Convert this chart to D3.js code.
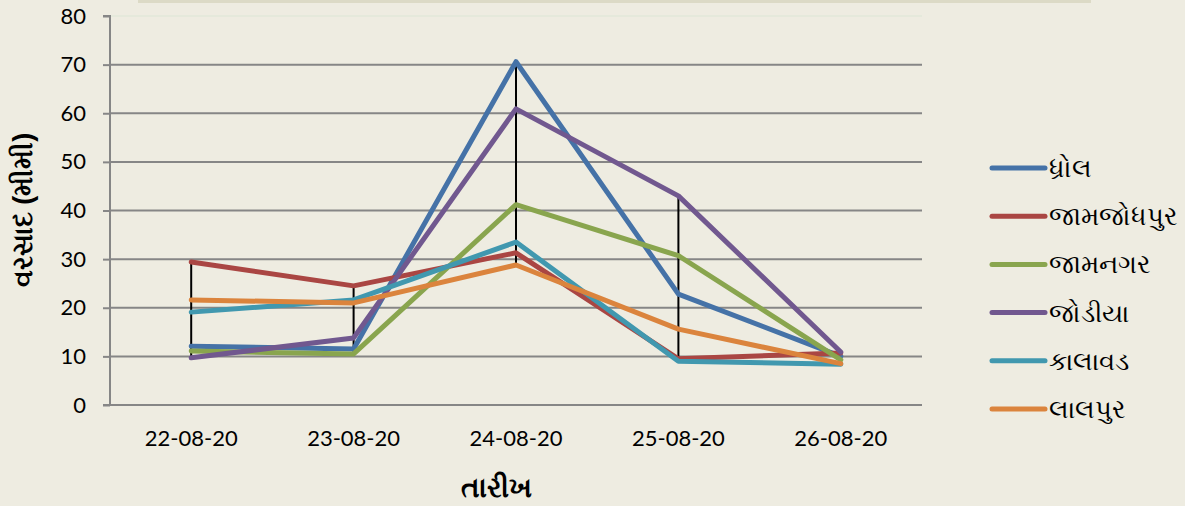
<!doctype html>
<html lang="gu">
<head>
  <meta charset="utf-8">
  <script src="https://cdnjs.cloudflare.com/ajax/libs/d3/7.8.5/d3.min.js"></script>
  <style>
    html, body { margin:0; padding:0; background:#EEECE1; }
    svg { display:block; }
    .tick text { font-family: Lato, "Open Sans", sans-serif; fill:#000; }
  </style>
</head>
<body>
<div id="chart"></div>
<script>
// dates on the x axis
var dates = ["22-08-20", "23-08-20", "24-08-20", "25-08-20", "26-08-20"];
var yTicks = [0, 10, 20, 30, 40, 50, 60, 70, 80];

// rainfall (mm) per taluka
var dhrol       = [12.1, 11.5, 70.6, 22.8, 10.0];
var jamjodhpur  = [29.4, 24.5, 31.3,  9.5, 10.7];
var jamnagar    = [11.1, 10.5, 41.2, 30.7,  9.3];
var jodiya      = [ 9.7, 13.8, 60.9, 43.0, 10.9];
var kalavad     = [19.1, 21.6, 33.5,  9.0,  8.4];
var lalpur      = [21.6, 21.0, 28.8, 15.6,  8.5];

var names  = ["ધ્રોલ", "જામજોધપુર", "જામનગર", "જોડીયા", "કાલાવડ", "લાલપુર"];
var colors = ["#4572A7", "#AA4643", "#89A54E", "#71588F", "#4198AF", "#DB843D"];
var seriesVals = [dhrol, jamjodhpur, jamnagar, jodiya, kalavad, lalpur];

var series = names.map(function(n, i){ return {name:n, color:colors[i], values:seriesVals[i]}; });

var W = 1185, H = 506;
var pLeft = 110, pRight = 922, pTop = 16, pBottom = 405;

var svg = d3.select("#chart").append("svg").attr("width", W).attr("height", H);

// faint title band at the very top
svg.append("rect").attr("x", 138).attr("y", 0).attr("width", 953).attr("height", 3)
   .attr("fill", "#DCDAC6");

var x = d3.scaleBand().domain(dates).range([pLeft, pRight]);
var y = d3.scaleLinear().domain([0, 80]).range([pBottom, pTop]);

// plot area top edge (very faint)
svg.append("line").attr("x1", pLeft).attr("x2", pRight).attr("y1", pTop).attr("y2", pTop)
   .attr("stroke", "#E2E8D8").attr("stroke-width", 1.5);

// gridlines
svg.append("g").selectAll("line").data(yTicks.filter(function(d){ return d > 0 && d < 80; }))
  .join("line")
  .attr("x1", pLeft).attr("x2", pRight)
  .attr("y1", function(d){ return y(d); }).attr("y2", function(d){ return y(d); })
  .attr("stroke", "#868686").attr("stroke-width", 2);

// y axis
var yAxis = svg.append("g").attr("transform", "translate(" + pLeft + ",0)")
  .call(d3.axisLeft(y).tickValues(yTicks).tickSize(7).tickPadding(17));
yAxis.select(".domain").attr("stroke", "#868686").attr("stroke-width", 2).attr("d", "M-7," + pTop + "H0V" + pBottom);
yAxis.selectAll(".tick line").attr("stroke", "#868686").attr("stroke-width", 2);
yAxis.selectAll(".tick text").attr("font-size", 22);

// x axis
var xAxis = svg.append("g").attr("transform", "translate(0," + pBottom + ")")
  .call(d3.axisBottom(x).tickSize(0).tickPadding(25));
xAxis.select(".domain").attr("stroke", "#868686").attr("stroke-width", 2).attr("d", "M" + (pLeft - 7) + ",0H" + pRight);
xAxis.selectAll(".tick text").attr("font-size", 22);

function cx(d){ return x(d) + x.bandwidth() / 2; }

// high-low lines
svg.append("g").selectAll("line").data(dates).join("line")
  .attr("x1", cx).attr("x2", cx)
  .attr("y1", function(d, i){ return y(d3.max(seriesVals, function(s){ return s[i]; })); })
  .attr("y2", function(d, i){ return y(d3.min(seriesVals, function(s){ return s[i]; })); })
  .attr("stroke", "#000").attr("stroke-width", 2);

var line = d3.line()
  .x(function(d, i){ return cx(dates[i]); })
  .y(function(d){ return y(d); });

svg.append("g").selectAll("path").data(series).join("path")
  .attr("d", function(s){ return line(s.values); })
  .attr("fill", "none")
  .attr("stroke", function(s){ return s.color; })
  .attr("stroke-width", 5)
  .attr("stroke-linejoin", "round")
  .attr("stroke-linecap", "round");

// legend
var lg = svg.append("g").selectAll("g").data(series).join("g")
  .attr("transform", function(s, i){ return "translate(992," + (168 + i * 48.2) + ")"; });
lg.append("line").attr("x1", 0).attr("x2", 53).attr("y1", 0).attr("y2", 0)
  .attr("stroke", function(s){ return s.color; }).attr("stroke-width", 5).attr("stroke-linecap", "round");
lg.append("text").attr("x", 57).attr("y", 9)
  .attr("font-family", "sans-serif").attr("font-size", 25.5).attr("fill", "#000")
  .text(function(s){ return s.name; });

// axis titles
svg.append("text").attr("x", (pLeft + pRight) / 2 - 20).attr("y", 497).attr("text-anchor", "middle")
  .attr("font-family", "sans-serif").attr("font-weight", "bold").attr("font-size", 28)
  .text("તારીખ");
svg.append("text").attr("transform", "translate(32,210) rotate(-90)").attr("text-anchor", "middle")
  .attr("font-family", "sans-serif").attr("font-weight", "bold").attr("font-size", 27)
  .text("વરસાદ (મીમી)");
</script>
</body>
</html>
